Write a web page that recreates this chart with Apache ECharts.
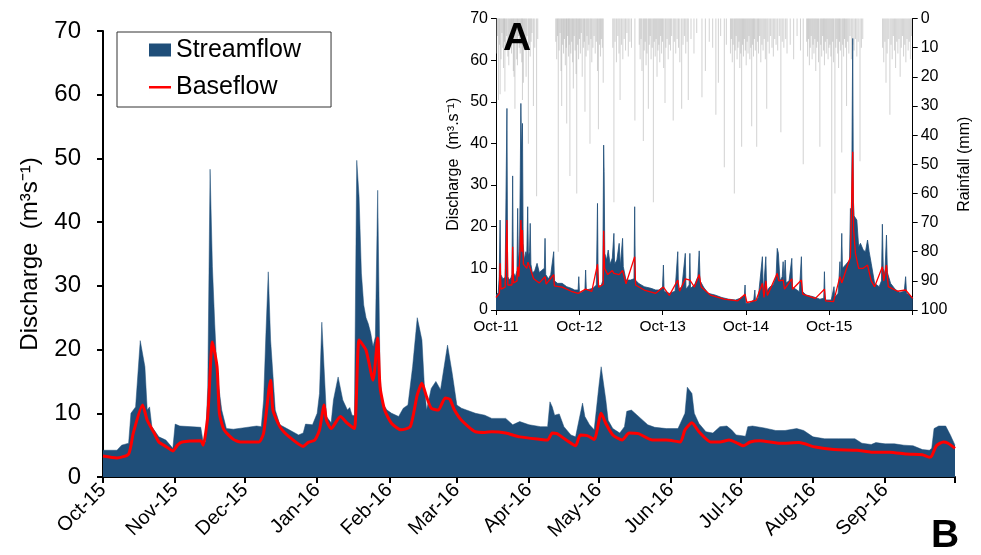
<!DOCTYPE html>
<html>
<head>
<meta charset="utf-8">
<script src="https://cdn.jsdelivr.net/npm/echarts@6/dist/echarts.min.js"></script>
<style>
  html, body { margin: 0; padding: 0; background: #fff; }
  #chart { width: 981px; height: 555px; }
</style>
</head>
<body>
<div id="chart"></div>
<script>
// main chart: day offset from 2015-10-01, discharge m3/s
const monthStartDays = [0, 31, 61, 92, 123, 152, 183, 213, 244, 274, 305, 336, 366];
const monthLabels = ['Oct-15', 'Nov-15', 'Dec-15', 'Jan-16', 'Feb-16', 'Mar-16', 'Apr-16',
  'May-16', 'Jun-16', 'Jul-16', 'Aug-16', 'Sep-16', ''];

const mainStreamflow = [
  [0, 4.2], [6, 4.2], [8, 5.0], [11, 5.3], [12, 10.0], [14, 11.0], [16, 21.4], [18, 17.3],
  [19, 10.5], [20, 11.0], [21, 7.9], [24, 6.3], [27, 5.8], [30, 4.5], [31, 8.3], [33, 8.0],
  [42, 7.8], [43, 5.5], [44, 5.5], [45, 14], [46, 48.3], [47, 33], [48, 24], [49, 16.3],
  [51, 10.5], [53, 7.6], [56, 7.5], [60, 7.7], [66, 8.0], [68, 7.9], [69, 12.1], [70, 22.6],
  [71, 32.2], [72, 21.5], [74, 10.5], [76, 8.2], [79, 7.6], [84, 6.6], [86, 6.9], [87, 8.3],
  [90, 8.2], [92, 10.0], [93, 13.1], [94, 24.3], [96, 9.5], [98, 8.5], [99, 12.1], [101, 15.7],
  [103, 12.1], [105, 10.5], [106, 10.9], [107, 9.7], [108, 9.6], [109, 49.7], [110, 44],
  [111, 32], [112, 27], [113, 25], [114, 24], [115, 22.6], [116, 20.5], [117, 22], [118, 45],
  [119, 16], [120, 11.6], [122, 10.5], [124, 10.0], [127, 9.5], [129, 10.8], [131, 11.3],
  [133, 17.3], [135, 25.0], [137, 21.5], [138, 14.7], [139, 10.5], [141, 13.9], [143, 15.0],
  [145, 13.7], [148, 20.7], [150, 16.3], [152, 11.3], [154, 10.8], [160, 10.0], [164, 9.7],
  [167, 9.2], [173, 9.2], [176, 8.2], [179, 8.7], [183, 8.2], [188, 7.9], [191, 7.9],
  [192, 11.8], [193, 11.0], [194, 9.7], [196, 9.9], [198, 7.9], [201, 6.6], [203, 6.3],
  [206, 11.6], [207, 9.5], [209, 8.2], [211, 7.4], [213, 14.2], [214, 17.3], [216, 12.1],
  [217, 8.9], [219, 7.6], [222, 6.9], [224, 7.9], [225, 10.3], [227, 10.5], [231, 9.2],
  [234, 8.2], [237, 7.8], [242, 7.6], [247, 7.6], [248, 8.4], [250, 10.0], [251, 14.1],
  [253, 13.1], [254, 10.0], [256, 8.4], [259, 7.1], [262, 6.9], [265, 7.9], [268, 8.0],
  [270, 7.4], [272, 6.6], [276, 6.4], [277, 7.9], [279, 8.0], [284, 7.7], [289, 7.3],
  [293, 7.3], [298, 7.6], [301, 7.3], [305, 6.3], [310, 6.0], [316, 6.0], [323, 6.0],
  [326, 5.3], [330, 5.1], [332, 5.4], [336, 5.2], [340, 5.2], [344, 5.0], [348, 4.9],
  [352, 4.3], [355, 4.2], [356, 4.5], [357, 7.6], [359, 8.0], [362, 8.0], [364, 6.6], [366, 5.0]
];

const mainBaseflow = [
  [0, 3.3], [6, 3.0], [11, 3.6], [13, 6.9], [17, 11.3], [19, 8.9], [22, 6.9], [24, 5.5],
  [27, 4.8], [30, 4.1], [32, 5.0], [34, 5.5], [42, 5.7], [43, 5.0], [45, 9.5], [47, 21.2],
  [49, 17.3], [50, 10.0], [52, 7.4], [56, 5.9], [59, 5.5], [67, 5.5], [69, 6.9], [72, 15.2],
  [73, 10.5], [76, 7.9], [80, 6.3], [86, 4.8], [88, 5.4], [91, 5.8], [93, 7.4], [95, 11.3],
  [96, 8.9], [98, 7.6], [102, 9.5], [105, 8.4], [108, 7.6], [110, 21.5], [113, 19.9],
  [116, 15.2], [118, 21.8], [119, 14.2], [121, 10.5], [124, 8.4], [128, 7.4], [132, 7.9],
  [135, 12.9], [137, 14.7], [139, 12.6], [141, 10.8], [144, 10.5], [147, 12.4], [149, 12.2],
  [151, 10.5], [154, 8.9], [160, 7.1], [164, 7.0], [167, 7.1], [173, 6.9], [179, 6.3],
  [188, 5.9], [191, 5.8], [193, 6.9], [195, 6.8], [199, 5.8], [203, 4.9], [205, 6.6],
  [208, 6.5], [211, 5.9], [214, 10.0], [216, 8.4], [219, 6.6], [223, 5.8], [226, 6.9],
  [230, 6.8], [236, 5.8], [242, 5.8], [248, 5.5], [250, 7.4], [253, 8.5], [256, 7.1],
  [261, 5.5], [265, 5.5], [269, 5.8], [272, 5.4], [275, 4.9], [278, 5.5], [282, 5.7],
  [291, 5.3], [299, 5.4], [306, 4.7], [314, 4.3], [324, 4.2], [330, 3.9], [338, 3.9],
  [345, 3.6], [352, 3.5], [355, 3.1], [356, 3.3], [358, 4.9], [361, 5.5], [363, 5.3], [366, 4.5]
];

// inset: day offset from 2011-10-01
const yearStartDays = [0, 366, 731, 1096, 1461, 1827];
const yearLabels = ['Oct-11', 'Oct-12', 'Oct-13', 'Oct-14', 'Oct-15', ''];

const insetStreamflow = [
  [0, 3.6], [10, 4.2], [14, 8], [18, 21.6], [21, 8.5], [30, 7.5], [40, 7.8], [45, 8], [48, 48.4],
  [51, 8], [60, 7.2], [66, 7.8], [70, 8.5], [73, 32.2], [76, 9], [85, 8], [92, 9.5], [95, 24.4],
  [98, 12], [103, 14], [106, 30], [109, 49.6], [112, 38], [116, 44.8], [119, 16], [124, 12],
  [131, 14], [135, 13], [139, 24.8], [142, 13], [147, 14], [150, 20.8], [153, 11], [160, 8.8],
  [170, 9.5], [180, 11.2], [190, 9], [200, 9.5], [212, 10], [215, 17.2], [218, 8.5], [230, 7.5],
  [240, 8.5], [253, 14], [256, 7], [270, 6.4], [290, 6.4], [310, 5.6], [330, 5.2], [345, 4.8],
  [360, 4.8], [363, 8], [366, 4], [380, 4.4], [390, 5], [393, 9.6], [396, 4.8], [410, 5],
  [425, 5.2], [440, 6], [445, 25.6], [448, 6], [460, 5.6], [468, 7], [472, 39.6], [474, 33.2],
  [477, 13.6], [485, 12], [492, 14.4], [496, 14.8], [500, 11], [510, 12.5], [517, 18.4],
  [520, 11], [530, 12], [540, 16], [545, 10.5], [555, 17.2], [558, 10.4], [570, 7.2], [590, 7.2],
  [605, 7.5], [608, 24.8], [611, 7.2], [625, 6.4], [650, 5.6], [680, 5.2], [700, 4.8], [715, 4.8],
  [730, 5.5], [734, 10.8], [737, 4.5], [760, 4], [785, 4.5], [797, 14], [800, 5], [815, 5.5],
  [830, 13.6], [833, 5], [847, 6], [850, 13.6], [853, 5.2], [870, 6], [885, 8], [891, 14.2],
  [895, 7], [910, 5.5], [930, 4], [960, 3.6], [990, 3], [1020, 2.6], [1050, 2.4], [1070, 2.8],
  [1089, 3.5], [1092, 6], [1095, 1.6], [1110, 1.6], [1130, 2.4], [1135, 4.8], [1138, 2],
  [1150, 3], [1168, 12.8], [1172, 4], [1183, 12.8], [1187, 4.5], [1200, 5.5], [1215, 6],
  [1228, 8], [1233, 14.8], [1238, 13.6], [1245, 7], [1255, 8], [1259, 11.6], [1262, 6.5],
  [1268, 12], [1272, 6.5], [1285, 7], [1297, 12.4], [1300, 5.5], [1330, 4.4], [1339, 12.8],
  [1342, 4.5], [1360, 3.6], [1390, 3.2], [1420, 2.6], [1437, 2.8], [1440, 9.2], [1443, 2.4],
  [1470, 2.4], [1482, 5.6], [1485, 3], [1500, 4], [1508, 11.6], [1511, 6], [1516, 18.4],
  [1519, 10], [1535, 11], [1550, 12], [1554, 24.4], [1558, 16], [1564, 65.2], [1567, 26.4],
  [1570, 22.6], [1576, 22.4], [1582, 21.6], [1590, 15.2], [1598, 16], [1610, 14.4], [1620, 14],
  [1629, 16.8], [1636, 14], [1645, 11.2], [1660, 6.4], [1680, 5.6], [1690, 7], [1694, 20.6],
  [1698, 10], [1705, 8.5], [1712, 18], [1716, 9], [1730, 6.4], [1750, 5], [1770, 4.2],
  [1790, 4.5], [1796, 8], [1800, 4], [1815, 3.6], [1827, 2.8]
];

const insetBaseflow = [
  [0, 3], [15, 4], [18, 11.2], [22, 5], [40, 5.5], [48, 21.6], [52, 6], [70, 6], [73, 15.2],
  [77, 6.5], [92, 7], [95, 10.4], [100, 8], [106, 15], [109, 21.6], [113, 14], [116, 19.2],
  [120, 11], [135, 10], [140, 11.5], [150, 10], [165, 7.5], [190, 6.5], [215, 8], [220, 6.2],
  [253, 8.5], [256, 5.8], [290, 5.5], [330, 4.5], [360, 4], [393, 5], [420, 4.5], [445, 11],
  [450, 5.5], [470, 6.2], [472, 19], [476, 10], [490, 8.5], [510, 9.5], [517, 8.8], [540, 8.5],
  [555, 9.5], [570, 6.3], [608, 12.8], [612, 6], [650, 4.8], [700, 4], [734, 5.5], [760, 3.5],
  [797, 7.2], [805, 4.5], [830, 7.5], [850, 7.2], [870, 5.5], [891, 8.5], [900, 5.5], [940, 3.6],
  [1000, 2.6], [1060, 2.2], [1092, 3.8], [1100, 1.8], [1140, 2.3], [1168, 6.4], [1175, 3],
  [1183, 7], [1190, 3.5], [1233, 8.8], [1240, 7], [1259, 7.2], [1265, 5], [1297, 7.5],
  [1300, 5], [1339, 7.2], [1345, 3.8], [1400, 2.8], [1440, 5], [1445, 2.2], [1480, 2],
  [1508, 8], [1516, 6.5], [1554, 12.8], [1564, 38], [1568, 19.2], [1576, 13.6], [1590, 10],
  [1610, 10], [1629, 10.8], [1645, 7], [1660, 5.6], [1694, 10.4], [1700, 7], [1712, 10.8],
  [1720, 5.6], [1760, 4.5], [1796, 4.8], [1827, 2.8]
];

// daily rainfall (mm), hanging from the top of the inset
const rainfall = [
  [3, 12], [7, 6], [11, 28], [15, 9], [18, 26], [22, 14], [26, 5], [30, 10], [33, 17], [37, 8],
  [39, 25], [43, 11], [47, 6], [52, 13], [56, 16], [60, 7], [64, 9], [68, 12], [72, 5], [76, 18],
  [79, 20], [83, 31], [87, 8], [91, 14], [94, 16], [98, 6], [102, 10], [106, 12], [110, 9],
  [113, 15], [116, 28], [120, 22], [124, 7], [128, 11], [132, 20], [136, 6], [142, 43], [146, 9],
  [150, 13], [154, 8], [158, 5], [164, 30], [170, 10], [178, 61], [183, 7],
  [262, 8], [266, 14], [270, 6], [273, 80], [277, 11], [281, 5], [285, 18], [288, 30], [292, 9],
  [296, 12], [300, 7], [304, 16], [308, 10], [310, 36], [314, 6], [318, 13], [321, 9], [324, 54],
  [328, 12], [332, 8], [336, 15], [339, 24], [343, 6], [347, 11], [351, 19], [354, 60], [358, 9],
  [362, 14], [366, 7], [370, 12], [374, 5], [378, 20], [383, 10], [387, 8], [390, 32], [395, 13],
  [399, 6], [403, 11], [407, 9], [412, 43], [416, 7], [420, 15], [425, 10], [430, 6], [435, 12],
  [440, 8], [445, 18], [449, 38], [454, 9], [458, 13], [462, 7], [466, 10], [470, 22],
  [512, 10], [517, 63], [522, 8], [528, 15], [534, 6], [539, 12], [544, 28], [550, 9], [556, 14],
  [562, 7], [568, 11], [574, 5], [580, 13], [587, 8], [594, 10], [609, 35],
  [628, 9], [632, 14], [636, 7], [640, 18], [646, 42], [650, 11], [654, 8], [658, 16], [662, 12],
  [668, 31], [672, 9], [676, 6], [680, 14], [685, 10], [690, 63], [694, 8], [698, 13], [702, 7],
  [706, 20], [710, 11], [714, 9], [718, 15], [722, 6], [726, 12], [730, 8], [735, 17], [741, 29],
  [745, 10], [750, 7], [755, 14], [760, 9], [765, 11], [770, 6], [777, 35], [782, 8], [788, 12],
  [794, 7], [800, 10], [806, 15], [814, 31], [820, 9], [826, 6], [832, 12], [838, 8], [843, 28],
  [855, 7], [868, 12], [880, 5], [903, 27], [918, 18], [935, 8], [950, 10], [964, 33], [975, 22],
  [985, 6], [1001, 51], [1010, 9],
  [1028, 12], [1032, 7], [1036, 15], [1040, 9], [1045, 60], [1049, 11], [1053, 6], [1057, 14],
  [1061, 10], [1065, 8], [1069, 17], [1073, 12], [1077, 44], [1081, 9], [1085, 13], [1089, 7],
  [1093, 11], [1097, 16], [1101, 8], [1105, 12], [1109, 6], [1113, 14], [1117, 10], [1121, 37],
  [1125, 9], [1129, 13], [1133, 7], [1137, 11], [1143, 44], [1147, 8], [1151, 12], [1156, 6],
  [1161, 15], [1166, 9], [1171, 11], [1176, 7], [1181, 14], [1187, 31], [1192, 8], [1198, 12],
  [1204, 6], [1210, 10], [1216, 13], [1222, 7], [1228, 9], [1235, 11], [1242, 6], [1249, 39],
  [1255, 8], [1262, 10], [1270, 7], [1276, 12],
  [1290, 9], [1305, 14], [1320, 6], [1335, 11], [1347, 50],
  [1362, 8], [1366, 13], [1370, 7], [1374, 16], [1378, 10], [1382, 6], [1386, 14], [1390, 9],
  [1394, 12], [1398, 7], [1402, 18], [1406, 10], [1410, 8], [1414, 15], [1420, 44], [1424, 9],
  [1428, 13], [1432, 6], [1436, 11], [1440, 16], [1444, 8], [1448, 12], [1452, 7], [1456, 14],
  [1460, 10], [1464, 9], [1468, 13], [1472, 98], [1476, 8], [1480, 15], [1486, 60], [1490, 10],
  [1494, 7], [1498, 12], [1502, 17], [1506, 8], [1510, 11], [1516, 46], [1520, 9], [1524, 13],
  [1528, 7], [1532, 10], [1537, 30], [1542, 8], [1547, 12], [1552, 6], [1558, 14], [1564, 9],
  [1570, 11], [1576, 7], [1582, 13], [1588, 8], [1596, 49], [1602, 10], [1608, 7],
  [1695, 10], [1700, 15], [1705, 8], [1710, 22], [1715, 12], [1720, 7], [1727, 33], [1732, 9],
  [1737, 14], [1742, 6], [1747, 11], [1752, 17], [1757, 8], [1762, 12], [1767, 7], [1772, 20],
  [1777, 10], [1782, 6], [1787, 13], [1792, 9], [1797, 15], [1802, 7], [1807, 11], [1812, 8],
  [1817, 14], [1822, 6]
];

const FONT = 'Liberation Sans, Arial, sans-serif';
const BLUE = '#1f4e79';
const RED = '#ff0000';
// thin red bar centred in a 22x13 legend box (the hairline on the left keeps the box full height)
const LINE_ICON = 'path://M0,5.5H22V8H0Z M0,0H0.01V13H0Z';

const chart = echarts.init(document.getElementById('chart'), null, { renderer: 'canvas' });

const option = {
  animation: false,
  backgroundColor: '#fff',
  textStyle: { fontFamily: FONT, color: '#000' },
  grid: [
    { left: 103, top: 31, width: 852, height: 446, outerBoundsMode: 'none' },
    { left: 496, top: 18.5, width: 416.7, height: 291.5, outerBoundsMode: 'none' }
  ],
  legend: {
    orient: 'vertical',
    left: 117,
    top: 32,
    padding: [5, 30, 7, 32],
    itemGap: 11,
    itemWidth: 22,
    itemHeight: 13,
    borderColor: '#333',
    borderWidth: 1,
    textStyle: { fontSize: 25, color: '#000', fontFamily: FONT, lineHeight: 26 },
    data: [
      { name: 'Streamflow', icon: 'rect', itemStyle: { color: BLUE } },
      { name: 'Baseflow', icon: LINE_ICON, itemStyle: { color: RED } }
    ]
  },
  xAxis: [
    {
      type: 'value', gridIndex: 0, min: 0, max: 366,
      splitLine: { show: false },
      axisLine: { lineStyle: { color: '#000', width: 2 } },
      axisTick: { customValues: monthStartDays, length: 6, lineStyle: { color: '#000', width: 2 } },
      axisLabel: {
        customValues: monthStartDays,
        rotate: 45, fontSize: 20, color: '#000', margin: 10,
        formatter: v => monthLabels[monthStartDays.indexOf(v)] || ''
      }
    },
    {
      type: 'value', gridIndex: 1, min: 0, max: 1827,
      splitLine: { show: false },
      axisLine: { lineStyle: { color: '#000', width: 1 } },
      axisTick: { customValues: yearStartDays, length: 5, lineStyle: { color: '#000' } },
      axisLabel: {
        customValues: yearStartDays,
        fontSize: 15.5, color: '#000', margin: 9,
        formatter: v => yearLabels[yearStartDays.indexOf(v)] || ''
      }
    }
  ],
  yAxis: [
    {
      type: 'value', gridIndex: 0, min: 0, max: 70, interval: 10,
      name: 'Discharge  (m³s⁻¹)', nameLocation: 'middle', nameGap: 61,
      nameTextStyle: { fontSize: 24, color: '#000', fontFamily: FONT },
      splitLine: { show: false },
      axisLine: { show: true, lineStyle: { color: '#000', width: 2 } },
      axisTick: { show: true, length: 6, lineStyle: { color: '#000', width: 2 } },
      axisLabel: { fontSize: 24, color: '#000', margin: 22 }
    },
    {
      type: 'value', gridIndex: 1, min: 0, max: 70, interval: 10,
      name: 'Discharge  (m³.s⁻¹)', nameLocation: 'middle', nameGap: 34,
      nameTextStyle: { fontSize: 16, color: '#000', fontFamily: FONT },
      splitLine: { show: false },
      axisLine: { show: true, lineStyle: { color: '#000', width: 1 } },
      axisTick: { show: true, length: 5, lineStyle: { color: '#000' } },
      axisLabel: { fontSize: 16, color: '#000', margin: 8 }
    },
    {
      type: 'value', gridIndex: 1, position: 'right', inverse: true,
      min: 0, max: 100, interval: 10,
      name: 'Rainfall (mm)', nameLocation: 'middle', nameGap: 44,
      nameTextStyle: { fontSize: 16, color: '#000', fontFamily: FONT },
      splitLine: { show: false },
      axisLine: { show: true, lineStyle: { color: '#000', width: 1 } },
      axisTick: { show: true, length: 5, lineStyle: { color: '#000' } },
      axisLabel: { fontSize: 16, color: '#000', margin: 8 }
    }
  ],
  series: [
    {
      name: 'Streamflow', type: 'line', xAxisIndex: 0, yAxisIndex: 0,
      data: mainStreamflow, symbol: 'none', color: BLUE,
      lineStyle: { color: BLUE, width: 0.5 },
      areaStyle: { color: BLUE, opacity: 1 }
    },
    {
      name: 'Baseflow', type: 'line', xAxisIndex: 0, yAxisIndex: 0,
      data: mainBaseflow, symbol: 'none', color: RED, smooth: 0.2,
      lineStyle: { color: RED, width: 3 }
    },
    {
      name: 'Rainfall', type: 'bar', xAxisIndex: 1, yAxisIndex: 2,
      data: rainfall, barWidth: 1,
      itemStyle: { color: 'rgba(165,165,165,0.5)' }
    },
    {
      name: 'Inset streamflow', type: 'line', xAxisIndex: 1, yAxisIndex: 1,
      data: insetStreamflow, symbol: 'none', color: BLUE,
      lineStyle: { color: BLUE, width: 0.8 },
      areaStyle: { color: BLUE, opacity: 1 }
    },
    {
      name: 'Inset baseflow', type: 'line', xAxisIndex: 1, yAxisIndex: 1,
      data: insetBaseflow, symbol: 'none', color: RED,
      lineStyle: { color: RED, width: 1.3 }
    }
  ],
  graphic: [
    { type: 'text', z: 100, left: 503, top: 20, style: { text: 'A', font: 'bold 39px ' + FONT, fill: '#000' } },
    { type: 'text', z: 100, left: 931, top: 517, style: { text: 'B', font: 'bold 39px ' + FONT, fill: '#000' } }
  ]
};

chart.setOption(option);
</script>
</body>
</html>
